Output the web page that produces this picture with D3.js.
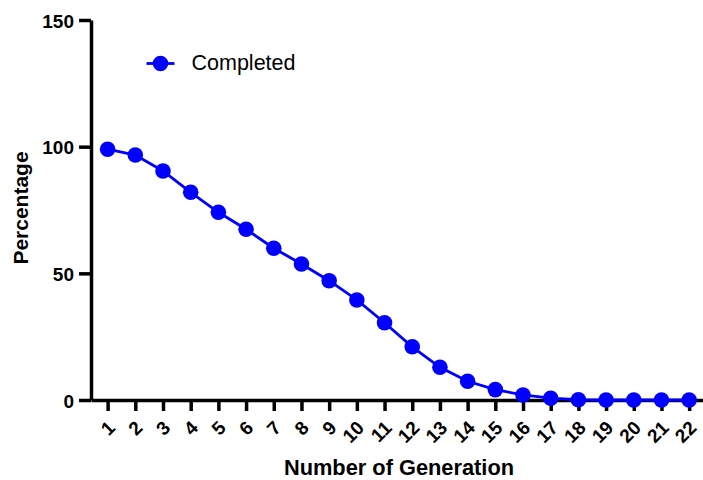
<!DOCTYPE html>
<html lang="en">
<head>
  <meta charset="UTF-8">
  <title>Completed by generation</title>
  <script src="https://d3js.org/d3.v7.min.js"></script>
  <style>
    html, body { margin: 0; padding: 0; background: #fff; }
    svg { display: block; font-family: "Liberation Sans", Arial, sans-serif; }
  </style>
</head>
<body>
<div id="chart"></div>
<script>
// ====== DATA ======
var generations = [1, 2, 3, 4, 5, 6, 7, 8, 9, 10, 11, 12, 13, 14, 15, 16, 17, 18, 19, 20, 21, 22];
var completed = [99.0, 96.7, 90.4, 82.0, 74.1, 67.4, 59.9, 53.7, 47.1, 39.5, 30.5,
                 21.0, 12.9, 7.4, 4.1, 2.0, 0.7, 0.1, 0, 0, 0, 0];
var yTicks = [0, 50, 100, 150];
var seriesName = "Completed";

var W = 703, H = 480;
var blue = "#0000ff";

var svg = d3.select("#chart").append("svg")
    .attr("width", W)
    .attr("height", H);

// ====== SCALES ======
var x = d3.scaleLinear().domain([0.4, 22.5]).range([91, 703]);
var y = d3.scaleLinear().domain([0, 150]).range([400, 20]);

// ====== Y AXIS ======
var yAxis = svg.append("g")
    .attr("transform", "translate(" + x(0.4) + ",0)")
    .call(d3.axisLeft(y).tickValues(yTicks).tickSize(12).tickSizeOuter(0).tickPadding(5));

yAxis.select(".domain").attr("stroke", "#000").attr("stroke-width", 3.5);
yAxis.selectAll(".tick line").attr("stroke", "#000").attr("stroke-width", 3.5);
yAxis.selectAll(".tick text")
    .attr("fill", "#000")
    .style("font-size", "19px")
    .style("font-weight", "bold")
    .attr("dy", "0.37em");

// ====== X AXIS ======
var xAxis = svg.append("g")
    .attr("transform", "translate(0," + y(0) + ")")
    .call(d3.axisBottom(x).tickValues(generations).tickFormat(d3.format("d"))
      .tickSize(11).tickSizeOuter(0));

xAxis.select(".domain").attr("stroke", "#000").attr("stroke-width", 3.5);
xAxis.selectAll(".tick line").attr("stroke", "#000").attr("stroke-width", 3.5);
xAxis.selectAll(".tick text")
    .attr("fill", "#000")
    .attr("x", 0).attr("y", 0).attr("dy", 0)
    .attr("transform", "translate(8,29) rotate(-45)")
    .style("text-anchor", "end")
    .style("font-size", "19px")
    .style("font-weight", "bold");

// ====== LINE + POINTS ======
var pts = generations.map(function(g, i) { return {g: g, v: completed[i]}; });

svg.append("path")
    .datum(pts)
    .attr("fill", "none")
    .attr("stroke", blue)
    .attr("stroke-width", 2.8)
    .attr("d", d3.line().x(function(d) { return x(d.g); }).y(function(d) { return y(d.v); }));

svg.selectAll(".pt")
    .data(pts)
    .enter()
    .append("circle")
    .attr("class", "pt")
    .attr("cx", function(d) { return x(d.g); })
    .attr("cy", function(d) { return y(d.v); })
    .attr("r", 7.8)
    .attr("fill", blue);

// ====== LEGEND ======
var legend = svg.append("g").attr("transform", "translate(160.5,63.5)");
legend.append("line")
    .attr("x1", -14).attr("x2", 14)
    .attr("stroke", blue).attr("stroke-width", 2.8);
legend.append("circle").attr("r", 7.8).attr("fill", blue);
legend.append("text")
    .attr("x", 31).attr("y", 6.5)
    .style("font-size", "21.5px")
    .text(seriesName);

// ====== AXIS TITLES ======
svg.append("text")
    .attr("transform", "translate(28,208) rotate(-90)")
    .attr("text-anchor", "middle")
    .style("font-size", "21px")
    .style("font-weight", "bold")
    .text("Percentage");

svg.append("text")
    .attr("x", 399).attr("y", 474.5)
    .attr("text-anchor", "middle")
    .style("font-size", "21.8px")
    .style("font-weight", "bold")
    .text("Number of Generation");
</script>
</body>
</html>
